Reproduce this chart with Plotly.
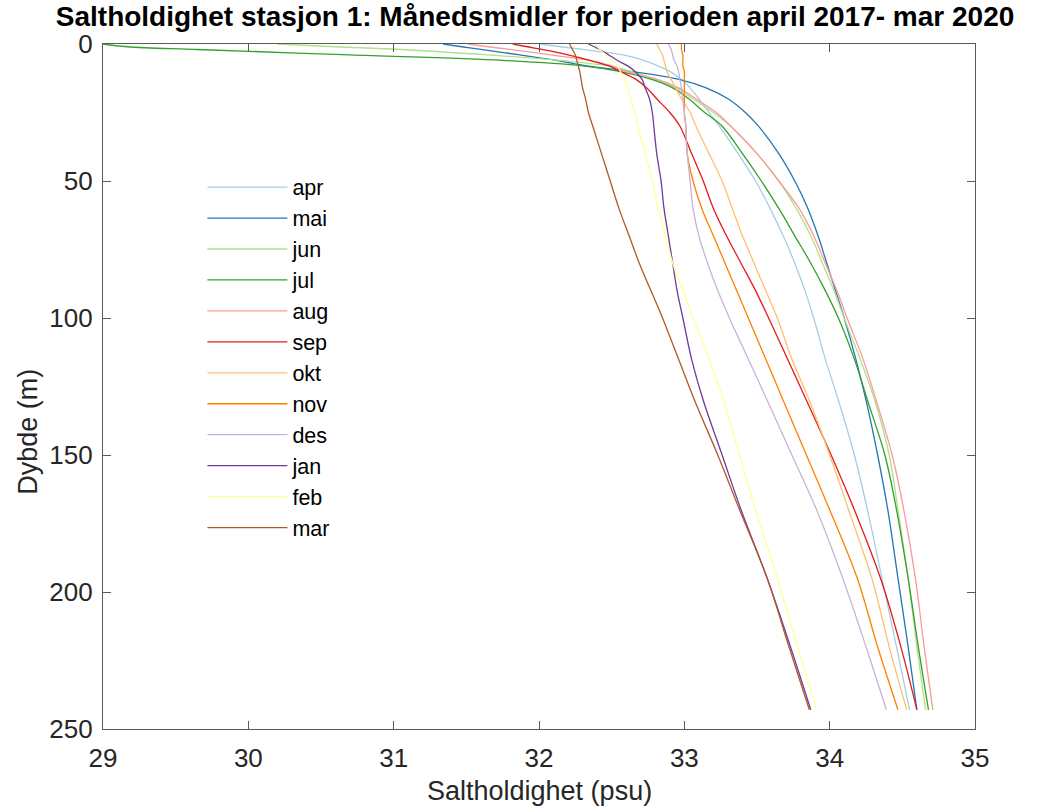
import plotly.graph_objects as go

depth = [0, 1, 2, 4, 6, 8, 10, 13, 16, 20, 25, 30, 40, 50, 60, 70, 80, 90, 100,
         115, 130, 150, 170, 195, 220, 243]

months = ["apr", "mai", "jun", "jul", "aug", "sep", "okt", "nov", "des", "jan", "feb", "mar"]

apr = [32.01, 32.15, 32.30, 32.58, 32.72, 32.82, 32.90, 32.98, 33.04, 33.10, 33.17, 33.24, 33.37,
       33.49, 33.59, 33.68, 33.76, 33.83, 33.89, 33.97, 34.06, 34.17, 34.26, 34.36, 34.46, 34.55]
mai = [31.34, 31.47, 31.60, 31.87, 32.12, 32.33, 32.63, 32.97, 33.15, 33.30, 33.42, 33.51, 33.65,
       33.76, 33.85, 33.92, 33.98, 34.04, 34.10, 34.18, 34.25, 34.33, 34.40, 34.47, 34.54, 34.60]
jun = [30.20, 30.60, 31.05, 31.65, 32.15, 32.48, 32.63, 32.80, 32.94, 33.06, 33.20, 33.32, 33.50,
       33.65, 33.77, 33.87, 33.95, 34.03, 34.10, 34.21, 34.31, 34.41, 34.47, 34.54, 34.60, 34.66]
jul = [29.00, 29.17, 29.65, 30.70, 31.75, 32.30, 32.55, 32.78, 32.92, 33.03, 33.14, 33.26, 33.40,
       33.53, 33.65, 33.76, 33.87, 33.97, 34.06, 34.17, 34.26, 34.38, 34.46, 34.54, 34.61, 34.68]
aug = [31.51, 31.65, 31.80, 32.08, 32.35, 32.50, 32.60, 32.82, 32.96, 33.08, 33.22, 33.32, 33.50,
       33.65, 33.79, 33.89, 33.97, 34.05, 34.12, 34.23, 34.32, 34.43, 34.51, 34.59, 34.65, 34.71]
sep = [31.82, 31.92, 32.02, 32.20, 32.35, 32.48, 32.56, 32.67, 32.74, 32.81, 32.90, 32.97, 33.05,
       33.13, 33.20, 33.29, 33.39, 33.49, 33.58, 33.71, 33.84, 34.01, 34.17, 34.35, 34.49, 34.60]
okt = [32.81, 32.82, 32.83, 32.85, 32.86, 32.87, 32.88, 32.91, 32.94, 32.98, 33.04, 33.08, 33.17,
       33.26, 33.33, 33.40, 33.48, 33.56, 33.64, 33.74, 33.86, 34.00, 34.13, 34.29, 34.41, 34.53]
nov = [32.98, 32.98, 32.98, 32.99, 32.99, 32.99, 33.00, 33.00, 33.00, 33.00, 33.00, 33.01, 33.02,
       33.06, 33.12, 33.20, 33.28, 33.36, 33.44, 33.56, 33.68, 33.84, 34.00, 34.19, 34.33, 34.47]
des = [32.89, 32.90, 32.91, 32.92, 32.93, 32.95, 32.96, 32.97, 32.98, 32.99, 33.00, 33.01, 33.02,
       33.04, 33.06, 33.10, 33.16, 33.23, 33.31, 33.44, 33.57, 33.74, 33.91, 34.09, 34.25, 34.39]
jan = [32.34, 32.38, 32.42, 32.48, 32.54, 32.61, 32.66, 32.71, 32.73, 32.76, 32.78, 32.79, 32.81,
       32.84, 32.86, 32.89, 32.92, 32.95, 32.99, 33.05, 33.13, 33.26, 33.39, 33.57, 33.73, 33.87]
feb = [32.37, 32.40, 32.42, 32.46, 32.51, 32.54, 32.56, 32.59, 32.61, 32.63, 32.66, 32.68, 32.73,
       32.78, 32.82, 32.87, 32.92, 32.99, 33.06, 33.17, 33.27, 33.38, 33.49, 33.64, 33.78, 33.91]
mar = [32.21, 32.22, 32.23, 32.25, 32.26, 32.27, 32.28, 32.29, 32.30, 32.32, 32.34, 32.37, 32.43,
       32.49, 32.55, 32.62, 32.69, 32.77, 32.85, 32.96, 33.07, 33.23, 33.38, 33.57, 33.72, 33.86]

series = [apr, mai, jun, jul, aug, sep, okt, nov, des, jan, feb, mar]
colors = ["#a6cee3", "#1f78b4", "#b2df8a", "#33a02c", "#fb9a99", "#e31a1c",
          "#fdbf6f", "#ff7f00", "#cab2d6", "#6a3d9a", "#ffff99", "#b15928"]

x_ticks = [29, 30, 31, 32, 33, 34, 35]
y_ticks = [0, 50, 100, 150, 200, 250]

FONT = "Arial, 'Liberation Sans', sans-serif"
AXCOL = "#5a5a5a"
TXTCOL = "#262626"

fig = go.Figure()
for name, vals, col in zip(months, series, colors):
    fig.add_trace(go.Scatter(
        x=vals, y=depth, mode="lines", name=name,
        line=dict(color=col, width=1.3, shape="spline", smoothing=1.0),
    ))

axis_common = dict(
    showline=True, mirror="ticks", linecolor=AXCOL, linewidth=1.2,
    ticks="inside", ticklen=8, tickcolor=AXCOL, tickwidth=1.2,
    showgrid=False, zeroline=False, automargin=False,
    tickfont=dict(family=FONT, size=26, color=TXTCOL),
)

fig.update_layout(
    width=1045, height=810,
    margin=dict(l=103, r=70, t=44, b=81),
    paper_bgcolor="white", plot_bgcolor="white",
    title=dict(
        text="<b>Saltholdighet stasjon 1: Månedsmidler for perioden april 2017- mar 2020</b>",
        font=dict(family=FONT, size=28, color="black"),
        x=0.512, xanchor="center", y=0.980, yanchor="middle",
    ),
    xaxis=dict(range=[29, 35], tickvals=x_ticks, ticklabelstandoff=6, **axis_common),
    yaxis=dict(range=[250, 0], tickvals=y_ticks, ticklabelstandoff=4, **axis_common),
    annotations=[
        dict(text="Saltholdighet (psu)", xref="paper", yref="paper",
             x=0.5, y=-0.0905, xanchor="center", yanchor="middle", showarrow=False,
             font=dict(family=FONT, size=27, color=TXTCOL)),
        dict(text="Dybde (m)", textangle=-90, xref="paper", yref="paper",
             x=-0.086, y=0.434, xanchor="center", yanchor="middle", showarrow=False,
             font=dict(family=FONT, size=27, color=TXTCOL)),
    ],
    legend=dict(
        x=0.114, y=0.821, xanchor="left", yanchor="top",
        bgcolor="rgba(0,0,0,0)", borderwidth=0,
        font=dict(family=FONT, size=21.5, color="black"),
        tracegroupgap=0, itemwidth=80,
    ),
    showlegend=True,
)

fig.write_html("out.html")
